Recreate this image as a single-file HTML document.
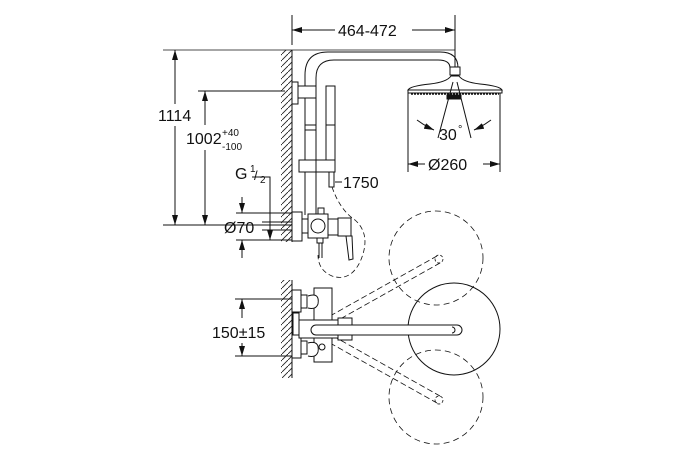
<!DOCTYPE html>
<html><head><style>
html,body{margin:0;padding:0;background:#fff;}
svg{display:block;}
text{font-family:"Liberation Sans",sans-serif;fill:#111;}
</style></head><body>
<svg width="675" height="450" viewBox="0 0 675 450" xmlns="http://www.w3.org/2000/svg">
<defs>
<pattern id="h" width="6" height="6" patternUnits="userSpaceOnUse">
<path d="M0 6 L6 0" stroke="#222" stroke-width="0.9"/>
</pattern>
<marker id="a" viewBox="0 0 10 6" refX="10" refY="3" markerWidth="10" markerHeight="6" orient="auto-start-reverse" markerUnits="userSpaceOnUse"><path d="M0 0 L10 3 L0 6 Z" fill="#111"/></marker>
</defs>
<g stroke="#111" stroke-width="1" fill="none">
<rect x="281" y="50" width="11" height="192" fill="url(#h)" stroke="none"/>
<line x1="292" y1="50" x2="292" y2="242"/>
<rect x="281" y="280" width="11" height="98" fill="url(#h)" stroke="none"/>
<line x1="292" y1="280" x2="292" y2="378"/>

<line x1="292" y1="15" x2="292" y2="45"/>
<line x1="455" y1="15" x2="455" y2="68"/>
<line x1="292" y1="30" x2="335" y2="30" marker-start="url(#a)"/>
<line x1="412" y1="30" x2="455" y2="30" marker-end="url(#a)"/>

<line x1="163" y1="50" x2="455" y2="50" stroke-width="0.8"/>
<line x1="175" y1="50" x2="175" y2="104" marker-start="url(#a)"/>
<line x1="175" y1="126" x2="175" y2="225" marker-end="url(#a)"/>
<line x1="163" y1="225" x2="292" y2="225"/>
<line x1="198" y1="91" x2="285" y2="91"/>
<line x1="205" y1="91" x2="205" y2="125" marker-start="url(#a)"/>
<line x1="205" y1="150" x2="205" y2="225" marker-end="url(#a)"/>
<polyline points="252,177 270,177 270,213"/>
<line x1="270" y1="213" x2="270" y2="240" marker-end="url(#a)"/>
<line x1="242" y1="197" x2="242" y2="213" marker-end="url(#a)"/>
<line x1="242" y1="258" x2="242" y2="240" marker-end="url(#a)"/>
<line x1="236" y1="213" x2="292" y2="213"/>
<line x1="236" y1="240" x2="292" y2="240"/>
<line x1="262" y1="222" x2="292" y2="222"/>
<line x1="262" y1="230" x2="292" y2="230"/>

<path d="M305 215 L305 75 Q305 52 328 52 L440 52 Q458 52 458 68"/>
<path d="M316 215 L316 78 Q316 60 334 60 L438 60 Q450 60 450 68"/>
<rect x="292" y="82" width="6" height="22" fill="#fff"/>
<rect x="298" y="86" width="18" height="12" fill="#fff"/>
<rect x="326" y="86" width="9" height="74" fill="#fff"/>
<line x1="326" y1="125" x2="335" y2="125"/>
<rect x="299" y="160" width="36" height="12" fill="#fff"/>
<line x1="316" y1="160" x2="316" y2="172"/>
<rect x="329" y="172" width="5" height="15" fill="#fff"/>
<line x1="335" y1="182" x2="342" y2="182"/>
<line x1="305" y1="125" x2="316" y2="125"/>
<line x1="305" y1="130" x2="316" y2="130"/>
<path d="M332 187 Q340 210 355 220 Q372 235 360 262 Q350 282 332 276 Q318 270 318 255" stroke-dasharray="5,3" stroke-width="0.8"/>
<rect x="292" y="212" width="10" height="29" fill="#fff"/>
<rect x="302" y="219" width="6" height="14" fill="#fff"/>
<rect x="308" y="214" width="20" height="24" fill="#fff"/>
<circle cx="318" cy="226" r="7" fill="#fff"/>
<rect x="318" y="208" width="6" height="6" fill="#fff"/>
<rect x="328" y="219" width="10" height="16" fill="#fff"/>
<rect x="338" y="218" width="13" height="18" fill="#fff"/>
<path d="M346 236 L352 236 L353 259 L349 260 Z" fill="#fff"/>
<rect x="317" y="238" width="6" height="5" fill="#fff"/>
<line x1="319" y1="243" x2="319" y2="258"/><line x1="322" y1="243" x2="322" y2="258"/>

<rect x="450" y="67" width="10" height="8" fill="#fff"/>
<path d="M408 90 Q410 86 430 84 Q447 82 451 76 L459 76 Q463 82 480 84 Q500 86 502 90 Z" fill="#fff"/>
<rect x="408" y="90" width="94" height="3" fill="#fff"/>
<line x1="411" y1="94" x2="499" y2="94" stroke-dasharray="2,1" stroke-width="1.5"/>
<rect x="447" y="95" width="14" height="4" fill="#111"/>
<line x1="453" y1="82" x2="438" y2="138"/>
<line x1="457" y1="82" x2="471" y2="138"/>
<path d="M417 120 Q425 126 434 130" marker-end="url(#a)"/>
<path d="M491 120 Q483 126 474 130" marker-end="url(#a)"/>
<line x1="408" y1="93" x2="408" y2="172"/>
<line x1="500" y1="93" x2="500" y2="172"/>
<line x1="408" y1="164" x2="425" y2="164" marker-start="url(#a)"/>
<line x1="483" y1="164" x2="500" y2="164" marker-end="url(#a)"/>

<line x1="235" y1="299" x2="292" y2="299"/>
<line x1="235" y1="356" x2="292" y2="356"/>
<line x1="242" y1="299" x2="242" y2="318" marker-start="url(#a)"/>
<line x1="242" y1="343" x2="242" y2="356" marker-end="url(#a)"/>

<circle cx="436" cy="258" r="47" stroke-dasharray="6,4" stroke-width="0.8"/>
<circle cx="436" cy="397" r="47" stroke-dasharray="6,4" stroke-width="0.8"/>
<path d="M330 316 L437 256 M333 323 L440 263" stroke-dasharray="6,3" stroke-width="0.8"/>
<path d="M330 343 L437 403 M333 336 L440 396" stroke-dasharray="6,3" stroke-width="0.8"/>
<circle cx="439" cy="259" r="4" stroke-dasharray="3,2" stroke-width="0.8"/>
<circle cx="439" cy="400" r="4" stroke-dasharray="3,2" stroke-width="0.8"/>
<circle cx="454" cy="329" r="46"/>
<rect x="292" y="290" width="9" height="22" fill="#fff"/>
<rect x="292" y="335" width="9" height="23" fill="#fff"/>
<rect x="293" y="313" width="6" height="22" fill="#fff"/>
<rect x="301" y="295" width="6" height="13" fill="#fff"/>
<rect x="301" y="341" width="6" height="13" fill="#fff"/>
<rect x="314" y="288" width="18" height="74" fill="#fff"/>
<path d="M308 296 Q320 292 318 304 Q316 310 308 308" fill="#fff"/>
<path d="M308 343 Q320 340 318 352 Q316 358 308 356" fill="#fff"/>
<circle cx="322" cy="347" r="3"/>
<rect x="299" y="320" width="45" height="18" fill="#fff"/>
<rect x="338" y="318" width="14" height="22" fill="#fff"/>
<path d="M316 325 L457 325 A5 5 0 0 1 457 335 L316 335 A5 5 0 0 1 316 325 Z" fill="#fff"/>
<path d="M452 327 A3 3 0 0 1 452 333"/>
</g>

<g font-size="16">
<text x="338" y="36">464-472</text>
<text x="158" y="121">1114</text>
<text x="186" y="144">1002</text>
<text x="222" y="136" font-size="10">+40</text>
<text x="222" y="150" font-size="10">-100</text>
<text x="235" y="179">G</text>
<text x="250" y="172" font-size="10">1</text>
<text x="254" y="180" font-size="13">/</text>
<text x="260" y="183" font-size="10">2</text>
<text x="224" y="233">Ø70</text>
<text x="343" y="188">1750</text>
<text x="439" y="140">30</text>
<text x="458" y="133" font-size="11">°</text>
<text x="428" y="170">Ø260</text>
<text x="212" y="338">150±15</text>
</g>
</svg>
</body></html>
